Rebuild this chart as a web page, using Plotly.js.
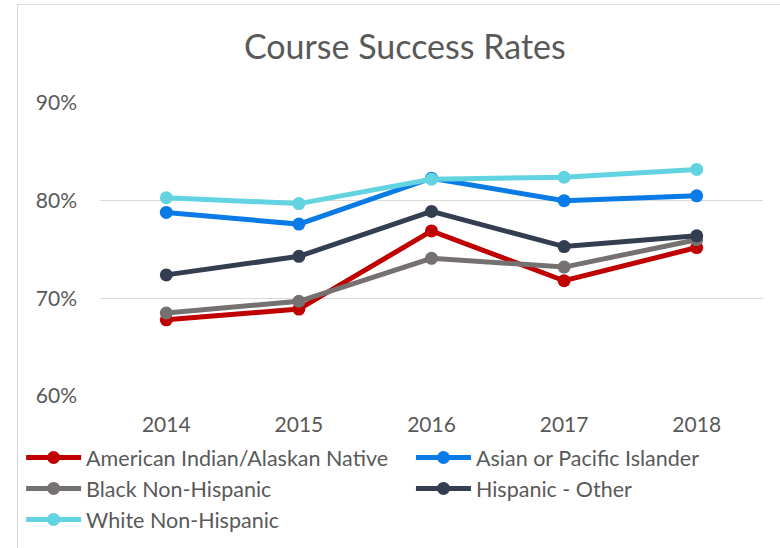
<!DOCTYPE html>
<html>
<head>
<meta charset="utf-8">
<script src="https://cdn.plot.ly/plotly-3.0.1.min.js"></script>
<style>
  html, body { margin: 0; padding: 0; background: #fff; }
  #wrap { position: relative; width: 780px; height: 548px; overflow: hidden; }
  #frame { position: absolute; left: 17px; top: 4px; width: 800px; height: 600px; border: 1px solid #D9D9D9; box-sizing: border-box; pointer-events: none; }
  #chart { position: absolute; left: 0; top: 0; width: 780px; height: 548px; }
</style>
</head>
<body>
<div id="wrap">
  <div id="chart"></div>
  <div id="frame"></div>
</div>
<script>
const years = ["2014", "2015", "2016", "2017", "2018"];
const seriesNames = ["American Indian/Alaskan Native", "Asian or Pacific Islander", "Black Non-Hispanic", "Hispanic - Other", "White Non-Hispanic"];
const americanIndian = [0.678, 0.689, 0.769, 0.718, 0.752];
const asianPacific   = [0.788, 0.776, 0.823, 0.800, 0.805];
const blackNonHisp   = [0.685, 0.697, 0.741, 0.732, 0.760];
const hispanicOther  = [0.724, 0.743, 0.789, 0.753, 0.764];
const whiteNonHisp   = [0.803, 0.797, 0.822, 0.824, 0.832];
const colors = ["#C00000", "#0A7BE6", "#767171", "#333F50", "#62D3E0"];
const yTicks = [0.6, 0.7, 0.8, 0.9];
const yTickText = ["60%", "70%", "80%", "90%"];
// legend column for each series (left column / right column)
const legendColumn = ["legend", "legend2", "legend", "legend2", "legend"];

const values = [americanIndian, asianPacific, blackNonHisp, hispanicOther, whiteNonHisp];
const traces = values.map((v, i) => ({
  type: "scatter",
  mode: "lines+markers",
  name: seriesNames[i],
  x: years,
  y: v,
  legend: legendColumn[i],
  line: { color: colors[i], width: 5 },
  marker: { color: colors[i], size: 13 },
  hoverinfo: "skip"
}));

const font = "Lato, 'Open Sans', sans-serif";
const legendBase = {
  orientation: "v", xanchor: "left", y: -0.140, yanchor: "top",
  traceorder: "normal", font: { size: 21.5, color: "#595959" },
  itemwidth: 55, bgcolor: "rgba(0,0,0,0)", tracegroupgap: 0
};
const layout = {
  width: 780, height: 548,
  margin: { l: 100, r: 17, t: 103, b: 152, autoexpand: false },
  paper_bgcolor: "#fff", plot_bgcolor: "#fff",
  font: { family: font, color: "#595959", size: 21 },
  title: { text: "Course Success Rates", x: 0.519, xanchor: "center", y: 0.914, yanchor: "middle",
           font: { family: font, size: 34, color: "#595959" } },
  xaxis: {
    type: "category", range: [-0.5, 4.5],
    showgrid: false, zeroline: false, showline: false, ticks: "",
    ticklabelstandoff: 14, tickfont: { size: 21, color: "#595959" }
  },
  yaxis: {
    range: [0.6, 0.9], tickvals: yTicks, ticktext: yTickText,
    showgrid: true, gridcolor: "#D9D9D9", gridwidth: 1.5,
    zeroline: false, showline: false, ticks: "",
    ticklabelstandoff: 22, tickfont: { size: 21, color: "#595959" }
  },
  showlegend: true,
  legend: Object.assign({}, legendBase, { x: -0.119 }),
  legend2: Object.assign({}, legendBase, { x: 0.469 })
};

Plotly.newPlot("chart", traces, layout, { staticPlot: true, displayModeBar: false });
</script>
</body>
</html>
